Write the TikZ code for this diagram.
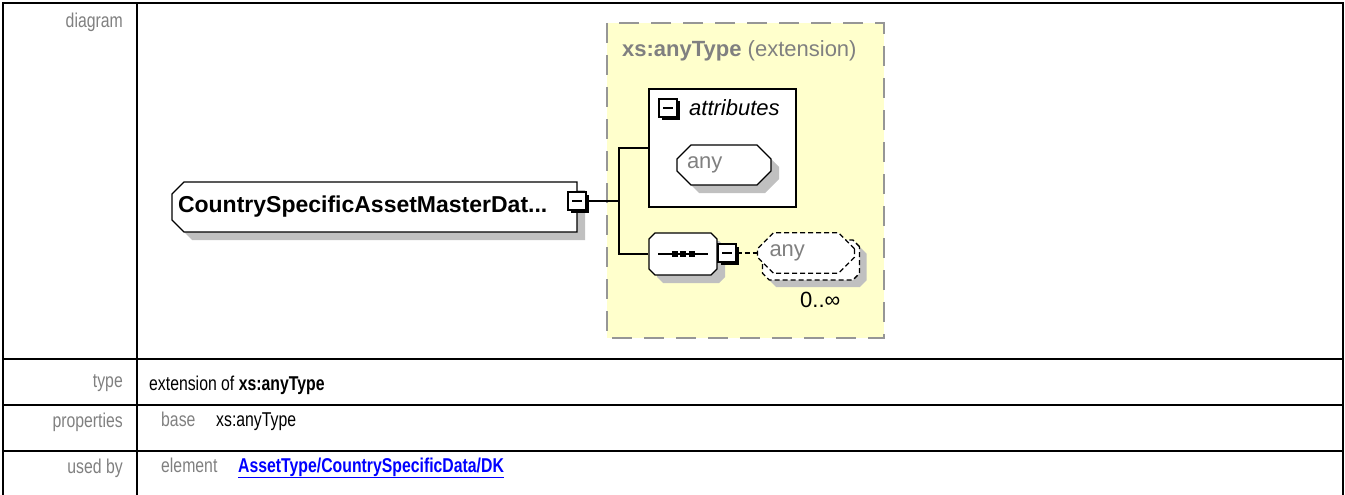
\documentclass[tikz,border=0pt]{standalone}
\usepackage{fontspec}
\setmainfont{Liberation Sans}
\newfontfamily\narrowfont[FakeStretch=0.79]{Liberation Sans}
\usepackage{tikz}
\usetikzlibrary{
	arrows.meta, shapes.misc, positioning, calc, shadows
}
\definecolor{docgray}    {RGB}{128, 128, 128}
\definecolor{docdash}    {RGB}{150, 150, 150}
\definecolor{docyellow}  {RGB}{255, 255, 204}
\definecolor{docshadow}  {RGB}{192, 192, 192}
\definecolor{doclink}    {RGB}{  0,   0, 255}

\newcommand{\diagfont}{\fontsize{22}{26}\selectfont}
\newcommand{\bodyfont}{\narrowfont\fontsize{20}{24}\selectfont}

\begin{document}
\begin{tikzpicture}[x=1pt, y=1pt,
		tableline/.style={line width=2pt, black},
		lab/.style={font=\bodyfont, text=docgray, inner sep=0pt, anchor=base east},
		body/.style={font=\bodyfont, inner sep=0pt, anchor=base west},
		conn/.style={line width=1.5pt, black},
		xsnode/.style={chamfered rectangle, chamfered rectangle sep=7pt, draw, fill=white,
			line width=1.3pt, inner sep=3pt, font=\diagfont, align=left,
			drop shadow={shadow xshift=8pt, shadow yshift=-8pt, fill=docshadow, opacity=1}},
		minusbox/.style={draw, fill=white, line width=1.3pt, minimum size=18pt, inner sep=0pt,
			drop shadow={shadow xshift=2.5pt, shadow yshift=-2.5pt, fill=black, opacity=1},
			path picture={\draw[line width=1.3pt] ([xshift=4pt]path picture bounding box.west)
				-- ([xshift=-4pt]path picture bounding box.east);}},
		wild/.style={chamfered rectangle, chamfered rectangle sep=8pt, draw, fill=white,
			line width=1.3pt, dash pattern=on 5pt off 3pt, minimum width=97pt, minimum height=40pt}
	]
	\useasboundingbox (0,0) rectangle (1345,-495);

	\draw[tableline] (3,-495) -- (3,-3) -- (1343,-3) -- (1343,-495);
	\draw[tableline] (137,-3) -- (137,-495);
	\foreach \y in {359,405,451}
		\draw[tableline] (3,-\y) -- (1343,-\y);

	\node[lab] (diaglab) at (123,-28) {diagram};
	\node[lab] (typelab) at (123,-387) {type};
	\node[lab] (proplab) at (123,-427) {properties};
	\node[lab] (usedlab) at (123,-473) {used by};

	\node[body] (typeval) at (149,-390) {extension of \textbf{xs:anyType}};
	\node[body, text=docgray] (basekey) at (161,-426) {base};
	\node[body] (baseval) at (216,-426) {xs:anyType};
	\node[body, text=docgray] (usedkey) at (161,-472) {element};
	\node[body, text=doclink] (usedval) at (238,-472) {\underline{\textbf{AssetType/CountrySpecificData/DK}}};

	\draw[docdash, line width=2pt, dash pattern=on 20pt off 12pt, fill=docyellow] (607,-23) rectangle (884,-338);
	\node[font=\diagfont, text=docgray, inner sep=0pt, anchor=base west] (ext) at (622,-57) {\textbf{xs:anyType} (extension)};

	\node[xsnode, chamfered rectangle corners={north west,south west}, chamfered rectangle sep=6pt,
		inner sep=0pt, minimum width=405pt, minimum height=50pt, text width=393pt,
		font=\fontsize{23}{27}\selectfont\bfseries] (elem) at (374.5,-207) {CountrySpecificAssetMasterDat...};
	\node[minusbox] (ei) at (577,-201) {};

	\node[draw, fill=white, line width=1.5pt, minimum width=147pt, minimum height=118pt] (attrs) at (722.5,-148) {};
	\node[minusbox] (ai) at (668,-108) {};
	\node[font=\diagfont\itshape, inner sep=0pt, anchor=base west] (attrtxt) at (689,-116) {attributes};
	\node[xsnode, minimum width=94pt, minimum height=40pt, text width=74pt, text=docgray] (aany) at (724,-165) {any};

	\node[xsnode, chamfered rectangle sep=9pt, minimum width=68pt, minimum height=42pt] (seq) at (683,-254) {};
	\draw[line width=1.3pt] ([xshift=-25pt]seq.center) -- ([xshift=25pt]seq.center);
	\foreach \dx in {-8.5,0,8.5}
		\fill ($(seq.center)+(\dx,0)$) +(-3,-3) rectangle +(3,3);
	\node[minusbox] (si) at (727,-253) {};

	\node[wild, drop shadow={shadow xshift=7pt, shadow yshift=-7pt, fill=docshadow, opacity=1}] (wb) at (811,-260) {};
	\node[wild, font=\diagfont, text=docgray, inner sep=4pt, text width=73pt] (wf) at (806,-253) {any};
	\node[font=\diagfont, inner sep=0pt, anchor=base west] (occ) at (800,-307) {0..∞};

	\coordinate (spine) at (619,-201);
	\draw[conn] (ei.east) -- (spine);
	\draw[conn] (attrs.west) -| (spine) |- (seq.west);
	\draw[line width=1.3pt, dash pattern=on 5pt off 3pt] (si.east) -- (wf.west);
\end{tikzpicture}
\end{document}
